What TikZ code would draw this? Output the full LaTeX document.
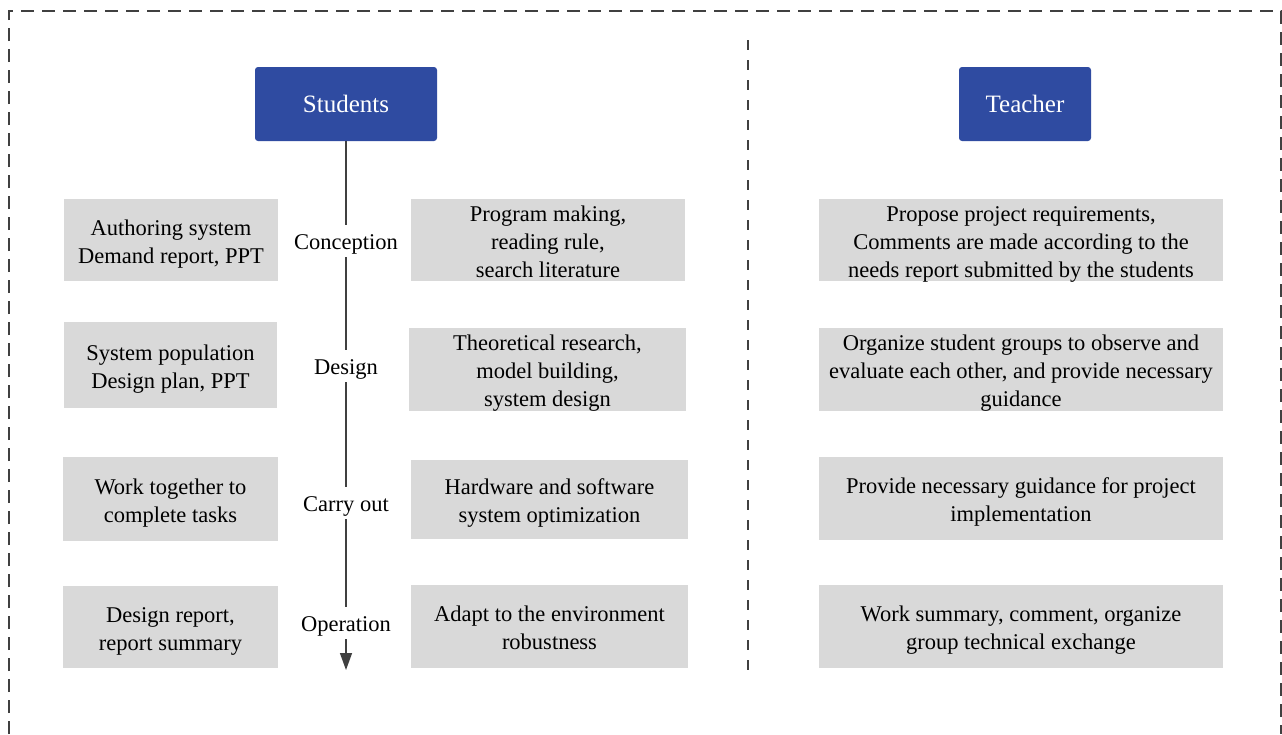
\documentclass[tikz,border=0pt]{standalone}
\usepackage{fontspec}
\setmainfont{Liberation Serif}
\usetikzlibrary{arrows.meta}
\definecolor{headblue}{RGB}{47,75,161}
\definecolor{boxgray}{RGB}{217,217,217}
\definecolor{linegray}{RGB}{64,64,64}
\begin{document}
\begin{tikzpicture}[x=1pt,y=-1pt,
  header/.style={fill=headblue,text=white,rounded corners=3pt,inner sep=0pt,
    text height=20pt,text depth=4pt,font=\fontsize{25}{30}\selectfont},
  infobox/.style={fill=boxgray,inner sep=0pt,align=center,text depth=0pt,
    font=\fontsize{22.5}{28}\selectfont},
  twolines/.style={infobox,text height=46pt},
  threelines/.style={infobox,text height=74pt},
  phase/.style={inner xsep=2pt,inner ysep=0pt,text height=22pt,text depth=5pt,
    minimum height=32pt,font=\fontsize{22.5}{28}\selectfont},
  flow/.style={draw=linegray,line width=1.4pt},
  frame/.style={draw=linegray,line width=2pt,dash pattern=on 13pt off 8pt},
  divider/.style={draw=linegray,line width=1.5pt,dash pattern=on 10pt off 10pt}]
\useasboundingbox (0,0) rectangle (1282,734);

% outer dashed frame
\draw[frame] (9,734) -- (9,11) -- (1281,11) -- (1281,734);
% divider between the two columns
\draw[divider] (748,40) -- (748,680);

% column headers
\node[header,minimum width=182pt,minimum height=74pt] (stu) at (346,104) {Students};
\node[header,minimum width=132pt,minimum height=74pt] (tea) at (1025,104) {Teacher};

% phase labels on the timeline
\node[phase] (c1) at (346,241) {Conception};
\node[phase] (c2) at (346,366) {Design};
\node[phase] (c3) at (346,503) {Carry out};
\node[phase] (c4) at (346,623) {Operation};
\coordinate (tl-end) at (346,670);

% timeline
\draw[flow] (stu.south) -- (c1.north);
\draw[flow] (c1.south) -- (c2.north);
\draw[flow] (c2.south) -- (c3.north);
\draw[flow] (c3.south) -- (c4.north);
\draw[flow,-{Triangle[length=17pt,width=12pt]}] (c4.south) -- (tl-end);

% student outputs
\node[twolines,minimum width=214pt,minimum height=82pt] (l1) at (171,240)
  {Authoring system\\Demand report, PPT};
\node[twolines,minimum width=213pt,minimum height=86pt] (l2) at (170.5,365)
  {System population\\Design plan, PPT};
\node[twolines,minimum width=215pt,minimum height=84pt] (l3) at (170.5,499)
  {Work together to\\complete tasks};
\node[twolines,minimum width=215pt,minimum height=82pt] (l4) at (170.5,627)
  {Design report,\\report summary};

% student activities
\node[threelines,minimum width=274pt,minimum height=82pt] (m1) at (548,240)
  {Program making,\\reading rule,\\search literature};
\node[threelines,minimum width=277pt,minimum height=83pt] (m2) at (547.5,369.5)
  {Theoretical research,\\model building,\\system design};
\node[twolines,minimum width=277pt,minimum height=79pt] (m3) at (549.5,499.5)
  {Hardware and software\\system optimization};
\node[twolines,minimum width=277pt,minimum height=83pt] (m4) at (549.5,626.5)
  {Adapt to the environment\\robustness};

% teacher tasks
\node[threelines,minimum width=404pt,minimum height=82pt] (r1) at (1021,240)
  {Propose project requirements,\\Comments are made according to the\\needs report submitted by the students};
\node[threelines,minimum width=404pt,minimum height=83pt] (r2) at (1021,369.5)
  {Organize student groups to observe and\\evaluate each other, and provide necessary\\guidance};
\node[twolines,minimum width=404pt,minimum height=83pt] (r3) at (1021,498.5)
  {Provide necessary guidance for project\\implementation};
\node[twolines,minimum width=404pt,minimum height=83pt] (r4) at (1021,626.5)
  {Work summary, comment, organize\\group technical exchange};
\end{tikzpicture}
\end{document}
